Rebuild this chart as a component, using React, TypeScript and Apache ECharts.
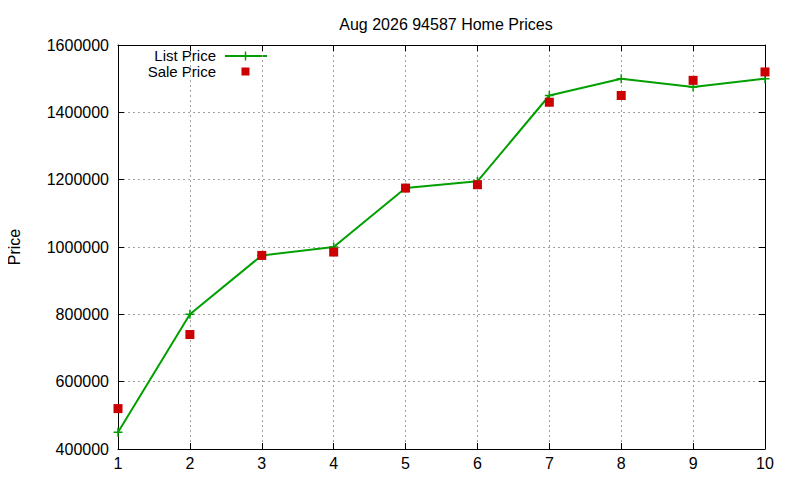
import React, { useEffect, useRef } from 'react';
import * as echarts from 'echarts';

const months = [1, 2, 3, 4, 5, 6, 7, 8, 9, 10];
const listPrice = [450000, 800000, 975000, 1000000, 1175000, 1195000, 1450000, 1500000, 1475000, 1500000];
const salePrice = [520000, 740000, 975000, 985000, 1175000, 1185000, 1430000, 1450000, 1495000, 1520000];
const chartTitle = 'Aug 2026 94587 Home Prices';

const GREEN = '#00a000';
const RED = '#cc0000';
const FONT = '"Liberation Sans", Arial, sans-serif';
const PLUS = 'path://M0,5L10,5M5,0L5,10';

const App: React.FC = () => {
  const chartRef = useRef<HTMLDivElement>(null);

  useEffect(() => {
    if (!chartRef.current) return;
    const chart = echarts.init(chartRef.current, null, { renderer: 'svg' });

    const gridSplit = { show: true, lineStyle: { color: '#a0a0a0', type: [2, 3], width: 1 } };
    const axisLine = { show: true, onZero: false, lineStyle: { color: '#000', width: 1 } };
    const tick = { show: true, inside: true, length: 6, lineStyle: { color: '#000' } };

    chart.setOption({
      animation: false,
      backgroundColor: '#fff',
      textStyle: { fontFamily: FONT },
      title: {
        text: chartTitle,
        left: 441,
        top: 11,
        textAlign: 'center',
        textStyle: { fontSize: 16, fontWeight: 'normal', color: '#000', fontFamily: FONT },
      },
      grid: { left: 118, right: 35, top: 45, bottom: 31, outerBoundsMode: 'none', containLabel: false },
      xAxis: [
        {
          type: 'value',
          min: 1,
          max: 10,
          interval: 1,
          axisLine,
          axisTick: tick,
          splitLine: gridSplit,
          axisLabel: { color: '#000', fontSize: 16, margin: 6, fontFamily: FONT },
        },
        {
          type: 'value',
          position: 'top',
          min: 1,
          max: 10,
          interval: 1,
          axisLine,
          axisTick: tick,
          splitLine: { show: false },
          axisLabel: { show: false },
        },
      ],
      yAxis: [
        {
          type: 'value',
          min: 400000,
          max: 1600000,
          interval: 200000,
          name: 'Price',
          nameLocation: 'middle',
          nameGap: 96,
          nameTextStyle: { color: '#000', fontSize: 16, fontFamily: FONT },
          axisLine,
          axisTick: tick,
          splitLine: gridSplit,
          axisLabel: {
            color: '#000',
            fontSize: 16,
            margin: 9,
            fontFamily: FONT,
            formatter: (v: number) => String(v),
          },
        },
        {
          type: 'value',
          position: 'right',
          min: 400000,
          max: 1600000,
          interval: 200000,
          axisLine,
          axisTick: tick,
          splitLine: { show: false },
          axisLabel: { show: false },
        },
      ],
      series: [
        {
          name: 'List Price',
          type: 'line',
          data: months.map((m, i) => [m, listPrice[i]]),
          symbol: PLUS,
          symbolSize: 9,
          showAllSymbol: true,
          lineStyle: { color: GREEN, width: 2 },
          itemStyle: { color: GREEN, borderColor: GREEN, borderWidth: 1.5 },
          z: 3,
        },
        {
          name: 'Sale Price',
          type: 'scatter',
          data: months.map((m, i) => [m, salePrice[i]]),
          symbol: 'rect',
          symbolSize: 9,
          itemStyle: { color: RED, opacity: 1 },
          z: 4,
        },
      ],
      graphic: [
        {
          type: 'text',
          x: 216,
          y: 55,
          style: { text: 'List Price', fill: '#000', font: `15px ${FONT}`, textAlign: 'right', textVerticalAlign: 'middle' },
        },
        {
          type: 'line',
          shape: { x1: 225, y1: 56, x2: 267, y2: 56 },
          style: { stroke: GREEN, lineWidth: 2 },
        },
        {
          type: 'line',
          shape: { x1: 245.5, y1: 51.5, x2: 245.5, y2: 60.5 },
          style: { stroke: GREEN, lineWidth: 1.5 },
        },
        {
          type: 'text',
          x: 216,
          y: 71,
          style: { text: 'Sale Price', fill: '#000', font: `15px ${FONT}`, textAlign: 'right', textVerticalAlign: 'middle' },
        },
        {
          type: 'rect',
          shape: { x: 241.5, y: 67.5, width: 8, height: 8 },
          style: { fill: RED },
        },
      ],
    });

    return () => {
      chart.dispose();
    };
  }, []);

  return <div ref={chartRef} style={{ width: 800, height: 480, margin: -8 }} />;
};

export default App;
